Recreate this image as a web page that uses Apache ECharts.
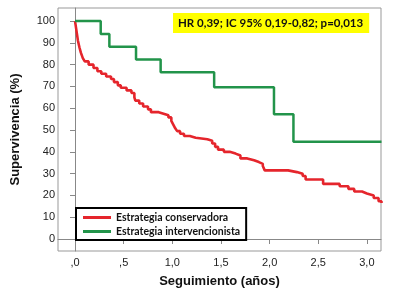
<!DOCTYPE html>
<html>
<head>
<meta charset="utf-8">
<script src="https://cdn.jsdelivr.net/npm/echarts@6/dist/echarts.min.js"></script>
<style>
html,body{margin:0;padding:0;background:#fff;}
#chart{width:398px;height:302px;}
</style>
</head>
<body>
<div id="chart"></div>
<script>
// Kaplan-Meier, estrategia conservadora (tiempo en años, supervivencia %)
var conservTime = [0, 0.01, 0.02, 0.03, 0.045, 0.06, 0.08, 0.10, 0.14, 0.19, 0.23, 0.27, 0.32, 0.37, 0.40, 0.44, 0.47, 0.53, 0.58, 0.61, 0.62, 0.66, 0.70, 0.75, 0.78, 0.86, 0.91, 0.96, 0.99, 1.01, 1.03, 1.05, 1.08, 1.12, 1.18, 1.24, 1.36, 1.41, 1.44, 1.47, 1.53, 1.59, 1.65, 1.70, 1.77, 1.84, 1.89, 1.93, 1.95, 2.19, 2.28, 2.34, 2.37, 2.55, 2.72, 2.81, 2.87, 2.95, 3.00, 3.07, 3.12, 3.15];
var conservSurv = [100, 97, 94, 91, 88, 85.5, 83, 81.5, 80, 78.5, 77, 75.8, 74.6, 73.4, 72, 70.5, 69.4, 68.2, 67, 65, 63.5, 62.2, 60.8, 59.5, 58.2, 57.5, 56.8, 55.8, 54.2, 52.5, 50.8, 49.5, 48.3, 47.3, 46.5, 45.8, 45.1, 43.8, 42.3, 41, 40, 39.2, 38.3, 37, 36.1, 35.3, 34.5, 33.5, 31.5, 30.7, 29.9, 28.9, 27.3, 25.3, 24.2, 23, 21.8, 20.9, 20, 18.8, 17.3, 16.5];
// estrategia intervencionista
var intervTime = [0, 0.264, 0.353, 0.627, 0.88, 1.43, 2.045, 2.245, 3.15];
var intervSurv = [100, 94.1, 88.2, 82.4, 76.5, 69.6, 57.2, 44.6, 44.6];

var seriesNames = ['Estrategia conservadora', 'Estrategia intervencionista'];
var xTicks = [0, 0.5, 1.0, 1.5, 2.0, 2.5, 3.0];
var yTicks = [0, 10, 20, 30, 40, 50, 60, 70, 80, 90, 100];
var statText = 'HR 0,39; IC 95% 0,19-0,82; p=0,013';

function pairs(xs, ys){
    var out = [];
    for(var i = 0; i < xs.length; i++){
        out.push([xs[i], ys[i]]);
    }
    return out;
}

var chart = echarts.init(document.getElementById('chart'));
var option = {
    animation: false,
    title: {
        text: statText,
        left: 173,
        top: 13,
        padding: [4, 6, 4, 5],
        backgroundColor: '#ffff00',
        textStyle: {fontFamily: 'Lato', fontWeight: 'bold', fontSize: 11.5, color: '#111'}
    },
    legend: {
        orient: 'vertical',
        left: 76,
        top: 208,
        padding: [4, 6, 3, 7],
        itemGap: 3,
        itemWidth: 28,
        itemHeight: 3,
        icon: 'rect',
        borderColor: '#000',
        borderWidth: 2,
        data: seriesNames,
        textStyle: {fontFamily: 'Lato', fontWeight: 'bold', fontSize: 10.5, color: '#111'}
    },
    grid: {
        left: 58, right: 17, top: 8, bottom: 51,
        show: true,
        borderColor: '#999',
        borderWidth: 1
    },
    xAxis: {
        type: 'value',
        min: -0.175,
        max: 3.145,
        name: 'Seguimiento (años)',
        nameLocation: 'middle',
        nameGap: 24,
        nameTextStyle: {fontFamily: 'Arial', fontWeight: 'bold', fontSize: 13, color: '#111'},
        splitLine: {show: false},
        axisLine: {lineStyle: {color: '#888'}},
        axisTick: {customValues: xTicks, length: 5, lineStyle: {color: '#888'}},
        axisLabel: {
            customValues: xTicks,
            margin: 6,
            fontFamily: 'Arial',
            fontSize: 11,
            color: '#222',
            formatter: function(v){
                return v.toFixed(1).replace('.', ',').replace(/^0/, '');
            }
        }
    },
    yAxis: {
        type: 'value',
        min: -5.5,
        max: 106,
        name: 'Supervivencia (%)',
        nameLocation: 'middle',
        nameGap: 36,
        nameTextStyle: {fontFamily: 'Arial', fontWeight: 'bold', fontSize: 13, color: '#111'},
        splitLine: {show: false},
        axisLine: {show: true, lineStyle: {color: '#888'}},
        axisTick: {show: true, customValues: yTicks, length: 5, lineStyle: {color: '#888'}},
        axisLabel: {customValues: yTicks, margin: 3, fontFamily: 'Arial', fontSize: 11, color: '#222'}
    },
    series: [
        {
            name: seriesNames[0],
            type: 'line',
            step: 'end',
            showSymbol: false,
            symbol: 'none',
            color: '#e5252c',
            lineStyle: {width: 2.6, color: '#e5252c'},
            data: pairs(conservTime, conservSurv)
        },
        {
            name: seriesNames[1],
            type: 'line',
            step: 'end',
            showSymbol: false,
            symbol: 'none',
            color: '#22944a',
            lineStyle: {width: 2.5, color: '#22944a'},
            data: pairs(intervTime, intervSurv)
        }
    ]
};
chart.setOption(option);
</script>
</body>
</html>
